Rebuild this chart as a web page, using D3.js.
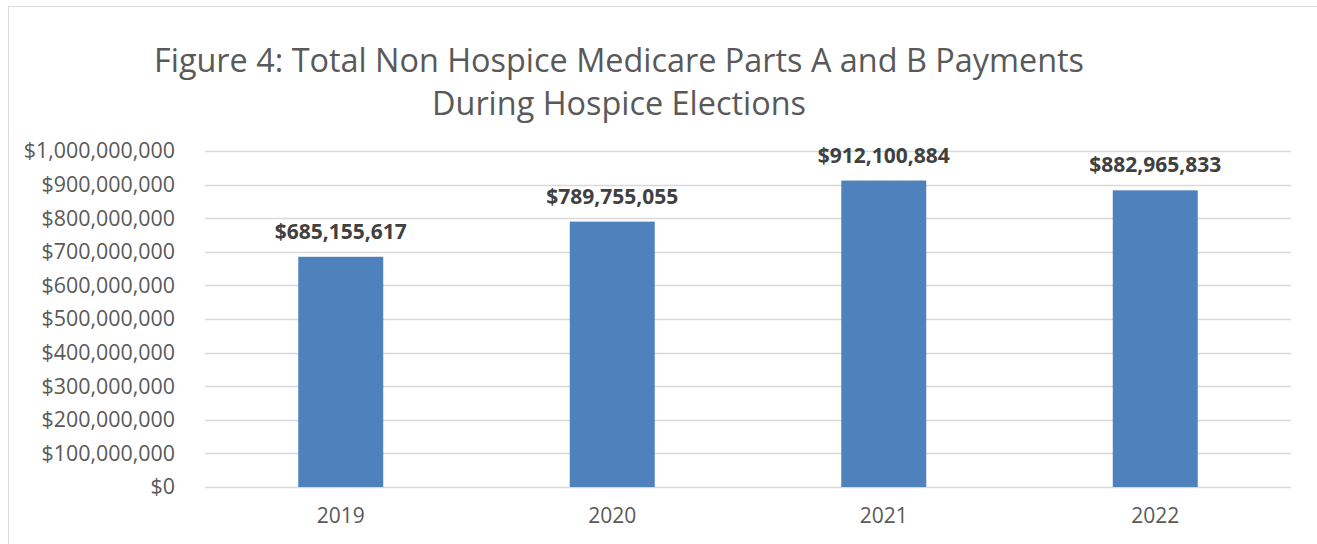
<!DOCTYPE html>
<html>
<head>
<meta charset="utf-8">
<script src="https://cdn.jsdelivr.net/npm/d3@7"></script>
<style>
  body { margin: 0; background: #fff; }
  svg { display: block; font-family: "Open Sans", sans-serif; }
</style>
</head>
<body>
<div id="chart"></div>
<script>
// chart data
var years = ["2019", "2020", "2021", "2022"];
var payments = [685155617, 789755055, 912100884, 882965833];
var yTicks = [0, 100000000, 200000000, 300000000, 400000000, 500000000,
              600000000, 700000000, 800000000, 900000000, 1000000000];
var titleLines = ["Figure 4: Total Non Hospice Medicare Parts A and B Payments",
                  "During Hospice Elections"];

var width = 1317, height = 544;
var margin = { top: 151, left: 205, right: 26, bottom: 57 };

var svg = d3.select("#chart").append("svg")
    .attr("width", width)
    .attr("height", height);

// outer chart border (runs off the right / bottom of the picture)
svg.append("rect")
    .attr("x", 8.5).attr("y", 6.5)
    .attr("width", 1400).attr("height", 700)
    .attr("fill", "none")
    .attr("stroke", "#d9d9d9");

var x = d3.scaleBand()
    .domain(years)
    .range([margin.left, width - margin.right])
    .paddingInner(0.687)
    .paddingOuter(0.3435);

var y = d3.scaleLinear()
    .domain([0, 1000000000])
    .range([height - margin.bottom, margin.top]);

var money = d3.format("$,");

// gridlines
svg.append("g").selectAll("line")
    .data(yTicks).enter()
    .append("line")
    .attr("x1", margin.left)
    .attr("x2", width - margin.right)
    .attr("y1", function (d) { return Math.round(y(d)) + 0.5; })
    .attr("y2", function (d) { return Math.round(y(d)) + 0.5; })
    .attr("stroke", "#d9d9d9")
    .attr("stroke-width", 1.5);

// y axis labels
var yAxis = d3.axisLeft(y).tickValues(yTicks).tickFormat(money).tickSize(0).tickPadding(30);
var gy = svg.append("g")
    .attr("transform", "translate(" + margin.left + ",0)")
    .call(yAxis);
gy.select(".domain").remove();
gy.selectAll("text")
    .attr("fill", "#595959")
    .style("font-size", "21.4px")
    .style("font-family", "'Open Sans', sans-serif");

// x axis labels
var xAxis = d3.axisBottom(x).tickSize(0).tickPadding(21);
var gx = svg.append("g")
    .attr("transform", "translate(0," + (height - margin.bottom) + ")")
    .call(xAxis);
gx.select(".domain").remove();
gx.selectAll("text")
    .attr("fill", "#595959")
    .style("font-size", "21px")
    .style("font-family", "'Open Sans', sans-serif");

// bars
svg.selectAll(".bar")
    .data(payments).enter()
    .append("rect")
    .attr("class", "bar")
    .attr("fill", "#4f81bd")
    .attr("x", function (d, i) { return x(years[i]); })
    .attr("width", x.bandwidth())
    .attr("y", function (d) { return y(d); })
    .attr("height", function (d) { return y(0) - y(d); });

// data labels
svg.selectAll(".lbl")
    .data(payments).enter()
    .append("text")
    .attr("class", "lbl")
    .attr("x", function (d, i) { return x(years[i]) + x.bandwidth() / 2; })
    .attr("y", function (d) { return y(d) - 18; })
    .attr("text-anchor", "middle")
    .attr("fill", "#404040")
    .style("font-size", "21px")
    .style("font-weight", "bold")
    .text(function (d) { return money(d); });

// title
svg.selectAll(".title")
    .data(titleLines).enter()
    .append("text")
    .attr("class", "title")
    .attr("x", 619)
    .attr("y", function (d, i) { return 72 + i * 43; })
    .attr("text-anchor", "middle")
    .attr("fill", "#595959")
    .style("font-size", "32.4px")
    .text(function (d) { return d; });
</script>
</body>
</html>
